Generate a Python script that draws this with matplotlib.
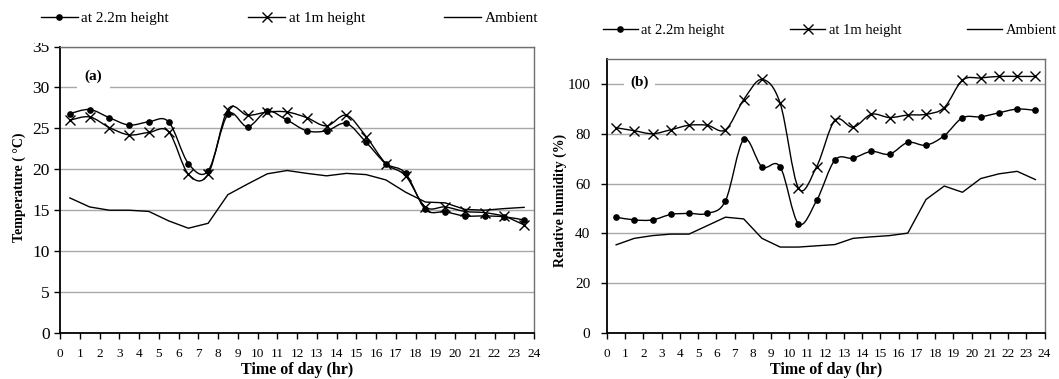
import numpy as np
import matplotlib
matplotlib.use("Agg")
import matplotlib.pyplot as plt
from matplotlib.path import Path
from matplotlib.patches import PathPatch, Rectangle
from matplotlib.lines import Line2D

plt.rcParams['font.family'] = ['Liberation Serif', 'DejaVu Serif']

# ---------------- data ----------------
hours = [h + 0.5 for h in range(24)]
x_ticks = list(range(25))

temp_22m = [26.8, 27.3, 26.3, 25.4, 25.8, 25.8, 20.7, 19.8, 26.7, 25.2, 27.1, 26.0,
            24.7, 24.7, 25.6, 23.3, 20.7, 19.5, 15.1, 14.8, 14.3, 14.3, 14.2, 13.8]
temp_1m = [26.0, 26.4, 25.1, 24.2, 24.5, 24.6, 19.4, 19.4, 27.3, 26.6, 27.0, 27.0,
           26.3, 25.3, 26.6, 24.0, 20.7, 19.2, 15.4, 15.4, 14.85, 14.7, 14.25, 13.2]
temp_amb = [16.5, 15.4, 15.0, 15.0, 14.85, 13.7, 12.8, 13.4, 16.9, 18.2, 19.45, 19.85,
            19.5, 19.2, 19.5, 19.35, 18.7, 17.2, 16.0, 15.9, 15.1, 15.0, 15.2, 15.35]

rh_22m = [46.5, 45.4, 45.4, 47.6, 48.0, 48.0, 53.1, 77.7, 66.7, 66.7, 43.9, 53.2,
          69.4, 70.2, 72.9, 71.8, 76.5, 75.4, 79.2, 86.4, 86.8, 88.4, 89.9, 89.4]
rh_1m = [82.4, 81.2, 80.0, 81.6, 83.4, 83.4, 81.6, 93.7, 101.8, 92.2, 58.2, 66.8,
         85.4, 82.6, 87.8, 86.5, 87.5, 87.8, 90.5, 101.5, 102.4, 103.0, 103.0, 103.0]
rh_amb = [35.4, 38.0, 39.1, 39.7, 39.7, 43.1, 46.5, 45.8, 38.0, 34.5, 34.5, 35.0,
          35.5, 38.0, 38.6, 39.1, 40.1, 53.6, 59.0, 56.5, 62.0, 63.9, 64.9, 61.6]

series_labels = ["at 2.2m height", "at 1m height", "Ambient"]
temp_yticks = [0, 5, 10, 15, 20, 25, 30, 35]
rh_yticks = [0, 20, 40, 60, 80, 100]

# ---------------- helpers ----------------
def smooth_path(x, y):
    pts = np.column_stack([x, y]).astype(float)
    n = len(pts)
    verts = [pts[0]]
    codes = [Path.MOVETO]
    for i in range(n - 1):
        p0 = pts[i - 1] if i > 0 else pts[i]
        p1 = pts[i]
        p2 = pts[i + 1]
        p3 = pts[i + 2] if i + 2 < n else pts[i + 1]
        c1 = p1 + (p2 - p0) / 6.0
        c2 = p2 - (p3 - p1) / 6.0
        verts += [c1, c2, p2]
        codes += [Path.CURVE4] * 3
    return Path(verts, codes)

LW = 1.0
MS_DOT = 3.8
MS_X = 7.5
DOT = dict(marker='o', markersize=MS_DOT, color='k', linestyle='none')
CROSS = dict(marker='x', markersize=MS_X, markeredgewidth=1.0, color='k', linestyle='none')


def style_axes(ax, ylim, yticks, ytick_size, ypad):
    ax.set_xlim(0, 24)
    ax.set_ylim(*ylim)
    ax.set_xticks(x_ticks)
    ax.set_xticklabels([str(t) for t in x_ticks], fontsize=9.5)
    ax.set_yticks(yticks)
    ax.set_yticklabels([str(t) for t in yticks], fontsize=ytick_size)
    ax.tick_params(axis='x', direction='out', length=4, width=1.0, pad=7)
    ax.tick_params(axis='y', direction='out', length=4, width=1.0, pad=ypad)
    ax.yaxis.grid(True, color='#a8a8a8', linewidth=1.0)
    ax.set_axisbelow(True)
    for s in ['left', 'bottom']:
        ax.spines[s].set_color('black')
        ax.spines[s].set_linewidth(1.3)
    for s in ['top', 'right']:
        ax.spines[s].set_color('#707070')
        ax.spines[s].set_linewidth(1.0)


def draw_series(ax, y22, y1, yamb):
    ax.add_patch(PathPatch(smooth_path(hours, y22), fill=False, edgecolor='k', lw=LW, zorder=3))
    ax.add_patch(PathPatch(smooth_path(hours, y1), fill=False, edgecolor='k', lw=LW, zorder=3))
    ax.plot(hours, yamb, color='k', lw=LW, zorder=3)
    ax.plot(hours, y22, zorder=4, **DOT)
    ax.plot(hours, y1, zorder=4, **CROSS)


def add_legend(fig, x0, x1, yc, fs):
    handles = [
        Line2D([], [], color='k', lw=LW, marker='o', markersize=MS_DOT),
        Line2D([], [], color='k', lw=LW, marker='x', markersize=MS_X, markeredgewidth=1.0),
        Line2D([], [], color='k', lw=LW),
    ]
    W, H = fig.get_size_inches() * fig.dpi
    leg = fig.legend(handles, series_labels, ncol=3, mode='expand',
                     bbox_to_anchor=(x0 / W, 1 - yc / H, (x1 - x0) / W, 0),
                     bbox_transform=fig.transFigure, loc='center',
                     frameon=False, fontsize=fs, handlelength=2.4,
                     handletextpad=0.25, borderpad=0, borderaxespad=0,
                     numpoints=1)
    leg.set_zorder(5)
    return leg


fig = plt.figure(figsize=(10.59, 3.79), dpi=100)
W, H = 1059, 379

# ---------------- panel (a) ----------------
ax1 = fig.add_axes([60 / W, 1 - 333 / H, (534 - 60) / W, (333 - 46.5) / H])
style_axes(ax1, (0, 35), temp_yticks, 12.5, 3.5)
draw_series(ax1, temp_22m, temp_1m, temp_amb)
ax1.set_xlabel("Time of day (hr)", fontsize=11.5, fontweight='bold')
ax1.xaxis.set_label_coords(0.5, -(370 - 333) / (333 - 46.5))
ax1.xaxis.label.set_va('center')
ax1.set_ylabel("Temperature ( \u00b0C)", fontsize=10, fontweight='bold')
ax1.yaxis.set_label_coords(-(60 - 19) / (534 - 60), (333 - 187.5) / (333 - 46.5))
ax1.yaxis.label.set_va('center')
ax1.text(1.7, 31.4, "(a)", fontsize=11, fontweight='bold', ha='center', va='center',
         bbox=dict(facecolor='white', edgecolor='none', pad=5.5), zorder=5)

# white band above panel (a) that hides the upper part of the top tick label
fig.add_artist(Rectangle((0, 1 - 43 / H), 545 / W, 43 / H, transform=fig.transFigure,
                         facecolor='white', edgecolor='none', zorder=1))
add_legend(fig, 41, 538, 18.5, 11)

# ---------------- panel (b) ----------------
ax2 = fig.add_axes([607 / W, 1 - 333 / H, (1044.5 - 607) / W, (333 - 59) / H])
style_axes(ax2, (0, 110), rh_yticks, 11, 8)
draw_series(ax2, rh_22m, rh_1m, rh_amb)
ax2.set_xlabel("Time of day (hr)", fontsize=11.5, fontweight='bold')
ax2.xaxis.set_label_coords(0.5, -(370.5 - 333) / (333 - 59))
ax2.xaxis.label.set_va('center')
ax2.set_ylabel("Relative humidity (%)", fontsize=10, fontweight='bold')
ax2.yaxis.set_label_coords(-(607 - 560) / (1044.5 - 607), (333 - 200) / (333 - 59))
ax2.yaxis.label.set_va('center')
ax2.text(1.78, 100.7, "(b)", fontsize=11, fontweight='bold', ha='center', va='center',
         bbox=dict(facecolor='white', edgecolor='none', pad=4.5), zorder=5)
add_legend(fig, 602.5, 1057, 30, 10.5)

fig.savefig("out.png", dpi=100)
